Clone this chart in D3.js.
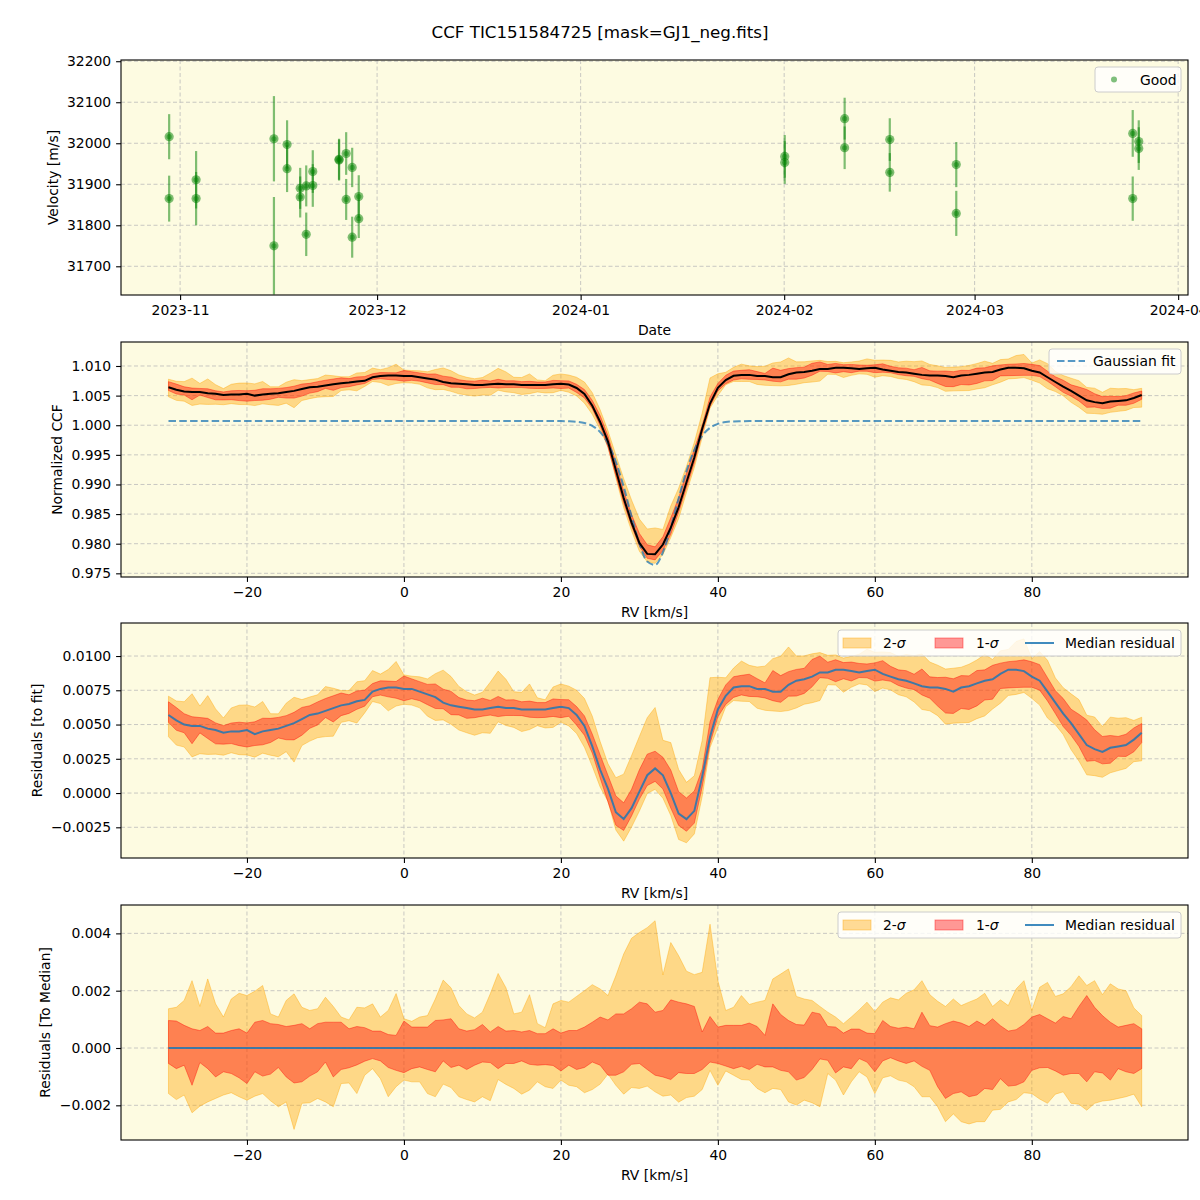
<!DOCTYPE html>
<html><head><meta charset="utf-8">
<script src="https://cdn.jsdelivr.net/npm/d3@7"></script>
<style>
body{margin:0;background:#fff}
text{font-family:"DejaVu Sans",sans-serif;fill:#000}
</style></head><body>
<svg id="chart" width="1200" height="1200" xmlns="http://www.w3.org/2000/svg"></svg>
<script>
// ---------------- DATA ----------------
const titleText = "CCF TIC151584725 [mask=GJ1_neg.fits]";

// Panel 1: radial velocity measurements
const obsDates = ["2023-10-30T08:00","2023-10-30T08:00","2023-11-03T10:30","2023-11-03T10:30",
  "2023-11-15T07:00","2023-11-15T07:00","2023-11-17T07:00","2023-11-17T07:00",
  "2023-11-19T07:00","2023-11-19T07:00","2023-11-20T05:00","2023-11-20T05:00",
  "2023-11-21T05:00","2023-11-21T05:00","2023-11-25T05:00","2023-11-25T05:00",
  "2023-11-26T07:00","2023-11-26T07:00","2023-11-27T05:00","2023-11-27T05:00",
  "2023-11-28T05:00","2023-11-28T05:00","2024-02-01T02:00","2024-02-01T02:00",
  "2024-02-10T05:00","2024-02-10T05:00","2024-02-17T02:00","2024-02-17T02:00",
  "2024-02-27T05:00","2024-02-27T05:00","2024-03-25T02:00","2024-03-25T02:00",
  "2024-03-26T00:00","2024-03-26T00:00"];
const obsRV = [32016,31865,31911,31865,32011,31750,31997,31938,31890,31869,31896,31778,
  31931,31897,31961,31959,31975,31863,31941,31771,31870,31816,31968,31953,
  32060,31989,32009,31929,31948,31829,32024,31865,32004,31987];
const obsErr = [55,56,70,65,104,119,59,57,50,50,50,53,52,52,50,50,52,50,48,50,52,47,
  52,52,51,52,52,47,55,55,57,54,52,52];
const velTicks = [31700,31800,31900,32000,32100,32200];

// RV grid (km/s) for the CCF panels
const rvGrid = d3.range(-30, 95, 1);
// Gaussian fit curve
const gaussFit = [
 1.0007,1.0007,1.0007,1.0007,1.0007,1.0007,1.0007,1.0007,1.0007,1.0007,
 1.0007,1.0007,1.0007,1.0007,1.0007,1.0007,1.0007,1.0007,1.0007,1.0007,
 1.0007,1.0007,1.0007,1.0007,1.0007,1.0007,1.0007,1.0007,1.0007,1.0007,
 1.0007,1.0007,1.0007,1.0007,1.0007,1.0007,1.0007,1.0007,1.0007,1.0007,
 1.0007,1.0007,1.0007,1.0007,1.0007,1.0007,1.0007,1.0007,1.0007,1.0007,
 1.0007,1.00067,1.00059,1.00039,0.99989,0.99885,0.99693,0.99384,0.9896,0.98465,
 0.98003,0.97698,0.97642,0.97856,0.9827,0.98765,0.99227,0.99584,0.99821,0.99956,
 1.00023,1.00053,1.00065,1.00068,1.0007,1.0007,1.0007,1.0007,1.0007,1.0007,
 1.0007,1.0007,1.0007,1.0007,1.0007,1.0007,1.0007,1.0007,1.0007,1.0007,
 1.0007,1.0007,1.0007,1.0007,1.0007,1.0007,1.0007,1.0007,1.0007,1.0007,
 1.0007,1.0007,1.0007,1.0007,1.0007,1.0007,1.0007,1.0007,1.0007,1.0007,
 1.0007,1.0007,1.0007,1.0007,1.0007,1.0007,1.0007,1.0007,1.0007,1.0007,
 1.0007,1.0007,1.0007,1.0007,1.0007];
// Median residual to fit
const medResid = [
 0.0057,0.0053,0.0050,0.0049,0.0049,0.0047,0.0046,0.0044,0.0045,0.0045,
 0.0046,0.0043,0.0045,0.0046,0.0047,0.0049,0.0051,0.0054,0.0057,0.0058,
 0.0060,0.0062,0.0064,0.0065,0.0067,0.0068,0.0074,0.0076,0.0077,0.0077,
 0.0076,0.0076,0.0074,0.0072,0.0070,0.0066,0.0064,0.0063,0.0062,0.0061,
 0.0061,0.0062,0.0063,0.0062,0.0062,0.0061,0.0061,0.0061,0.0061,0.0062,
 0.0063,0.0062,0.0057,0.0049,0.0034,0.0017,0.0003,-0.0014,-0.0019,-0.0011,
 0.0001,0.0013,0.0018,0.0013,0.0000,-0.0015,-0.0019,-0.0013,0.0012,0.0041,
 0.0061,0.0071,0.0077,0.0078,0.0078,0.0076,0.0076,0.0074,0.0074,0.0079,
 0.0082,0.0083,0.0085,0.0088,0.0088,0.0090,0.0090,0.0089,0.0088,0.0089,
 0.0090,0.0087,0.0085,0.0083,0.0082,0.0080,0.0078,0.0077,0.0077,0.0076,
 0.0074,0.0077,0.0078,0.0080,0.0082,0.0083,0.0087,0.0090,0.0090,0.0089,
 0.0085,0.0082,0.0074,0.0066,0.0058,0.0051,0.0043,0.0035,0.0032,0.0030,
 0.0033,0.0034,0.0035,0.0039,0.0044];
// Quantile offsets relative to the median (residuals to median)
const upper2 = [
 0.00137,0.00142,0.00166,0.00235,0.00145,0.00241,0.00154,0.00108,0.00171,0.00191,
 0.00183,0.00198,0.00218,0.00119,0.00108,0.00166,0.00189,0.00142,0.00131,0.00137,
 0.00177,0.00145,0.00108,0.00098,0.00142,0.00140,0.00154,0.00108,0.00131,0.0019,
 0.00102,0.00093,0.00108,0.00113,0.00171,0.00237,0.0021,0.00148,0.00119,0.00105,
 0.00125,0.00189,0.0026,0.0021,0.00119,0.00125,0.00186,0.00085,0.00071,0.00154,
 0.00166,0.0016,0.0018,0.002,0.00221,0.00206,0.00183,0.00252,0.00328,0.00383,
 0.00403,0.0042,0.00444,0.00255,0.00368,0.00322,0.00268,0.00256,0.00264,0.00432,
 0.00235,0.00131,0.00142,0.00183,0.00152,0.0016,0.00166,0.00241,0.00258,0.00276,
 0.0018,0.00171,0.00166,0.00145,0.00125,0.00108,0.00085,0.00108,0.00133,0.0016,
 0.00127,0.0016,0.00175,0.00168,0.00191,0.00203,0.00235,0.00186,0.00163,0.00145,
 0.00171,0.00148,0.0016,0.00171,0.00191,0.00145,0.00168,0.00148,0.00206,0.00235,
 0.00131,0.00212,0.00229,0.0018,0.00189,0.00214,0.00252,0.00218,0.00235,0.00186,
 0.00224,0.00206,0.002,0.0014,0.00113];
const upper1 = [
 0.00096,0.00094,0.00079,0.00067,0.00061,0.00075,0.00052,0.00052,0.00061,0.00067,
 0.00052,0.0009,0.00096,0.00085,0.00082,0.00075,0.00079,0.00085,0.00067,0.00085,
 0.0009,0.0009,0.0009,0.00067,0.00075,0.00071,0.00059,0.00059,0.00047,0.00044,
 0.00094,0.00073,0.00073,0.00073,0.00096,0.00098,0.00102,0.00067,0.00059,0.00064,
 0.00082,0.00056,0.00075,0.00059,0.00061,0.00056,0.00061,0.0005,0.0005,0.00067,
 0.00052,0.00061,0.00061,0.00073,0.0009,0.00108,0.00098,0.00119,0.00119,0.00137,
 0.0016,0.00154,0.00125,0.00131,0.00168,0.0016,0.00154,0.00145,0.00056,0.0011,
 0.00073,0.00079,0.00079,0.00079,0.00087,0.00075,0.00044,0.00154,0.00117,0.00096,
 0.00082,0.0008,0.00125,0.00119,0.00075,0.00073,0.00052,0.00066,0.00066,0.00052,
 0.0005,0.00096,0.00075,0.00069,0.00073,0.00067,0.00125,0.00078,0.00073,0.00085,
 0.00094,0.00087,0.00075,0.00094,0.00079,0.00102,0.00078,0.00059,0.00064,0.00082,
 0.00108,0.00117,0.00102,0.00087,0.0011,0.00102,0.00145,0.00183,0.00142,0.00113,
 0.0009,0.00073,0.00079,0.00085,0.00067];
const lower1 = [
 -0.00054,-0.00072,-0.0006,-0.0013,-0.00051,-0.00072,-0.00101,-0.00083,-0.00089,-0.00104,
 -0.00124,-0.00083,-0.00098,-0.00091,-0.00068,-0.00101,-0.00122,-0.00118,-0.00098,-0.00083,
 -0.00049,-0.00101,-0.00075,-0.00069,-0.00059,-0.00046,-0.00037,-0.00045,-0.00068,-0.00078,
 -0.00086,-0.00072,-0.00066,-0.00075,-0.00083,-0.00045,-0.00068,-0.0006,-0.00075,-0.0006,
 -0.00049,-0.00051,-0.00072,-0.00054,-0.00054,-0.00045,-0.00057,-0.0006,-0.00058,-0.00061,
 -0.0008,-0.0006,-0.00075,-0.00068,-0.00049,-0.0006,-0.00095,-0.00095,-0.00083,-0.00057,
 -0.00054,-0.00075,-0.00095,-0.00101,-0.0011,-0.00086,-0.00089,-0.00089,-0.00075,-0.00049,
 -0.00054,-0.00063,-0.00072,-0.00064,-0.00075,-0.00057,-0.00066,-0.00066,-0.00078,-0.00083,
 -0.00112,-0.00103,-0.00075,-0.00038,-0.00043,-0.00087,-0.00066,-0.00072,-0.00037,-0.00049,
 -0.00083,-0.00045,-0.00034,-0.00045,-0.00054,-0.00045,-0.00064,-0.00078,-0.00135,-0.00176,
 -0.00159,-0.00153,-0.0017,-0.00164,-0.00141,-0.00145,-0.00107,-0.00133,-0.0013,-0.00118,
 -0.00078,-0.00069,-0.00068,-0.0008,-0.00095,-0.00089,-0.00089,-0.00118,-0.00083,-0.00087,
 -0.00112,-0.00072,-0.00083,-0.00089,-0.00072];
const lower2 = [
 -0.00159,-0.0018,-0.00164,-0.00226,-0.00203,-0.00188,-0.00176,-0.00164,-0.00156,-0.0017,
 -0.00182,-0.00168,-0.00159,-0.00184,-0.00205,-0.00188,-0.00284,-0.00193,-0.00191,-0.00176,
 -0.00188,-0.00205,-0.00124,-0.00122,-0.00159,-0.00095,-0.00072,-0.00107,-0.0017,-0.00135,
 -0.00112,-0.00118,-0.00118,-0.00159,-0.0017,-0.00126,-0.00138,-0.0017,-0.0018,-0.00188,
 -0.0017,-0.00184,-0.0011,-0.00127,-0.00141,-0.00161,-0.00147,-0.00118,-0.00135,-0.00141,
 -0.00112,-0.0013,-0.00135,-0.00156,-0.00145,-0.00126,-0.00091,-0.0013,-0.00161,-0.00138,
 -0.00141,-0.00133,-0.00153,-0.00168,-0.00164,-0.00189,-0.00173,-0.00168,-0.00145,-0.00078,
 -0.0013,-0.0008,-0.00095,-0.0011,-0.00112,-0.00141,-0.00156,-0.00141,-0.00145,-0.00188,
 -0.00199,-0.00182,-0.00191,-0.00205,-0.00089,-0.00112,-0.00164,-0.00118,-0.00083,-0.00101,
 -0.00159,-0.00104,-0.00097,-0.00112,-0.00118,-0.00135,-0.0017,-0.0017,-0.00205,-0.00257,
 -0.0023,-0.00257,-0.00265,-0.00257,-0.00257,-0.00217,-0.00214,-0.00188,-0.0018,-0.00156,
 -0.00159,-0.00178,-0.00193,-0.00161,-0.00153,-0.00193,-0.00196,-0.00217,-0.00193,-0.00185,
 -0.00182,-0.00176,-0.0017,-0.00161,-0.00205];

const rvTicks = [-20,0,20,40,60,80];
const ccfTicks = [0.975,0.980,0.985,0.990,0.995,1.000,1.005,1.010];
const residTicks = [-0.0025,0,0.0025,0.005,0.0075,0.01];
const medTicks = [-0.002,0,0.002,0.004];

// ---------------- LAYOUT ----------------
const svg = d3.select('#chart');
const L = 121, R = 1188;
const FS = 13.9;
const BG = '#fdfbe1';
const panels = [
  {top:60, bottom:295},
  {top:342, bottom:577},
  {top:623, bottom:858},
  {top:905, bottom:1140}
];

svg.append('text').attr('x',600).attr('y',38).attr('text-anchor','middle')
  .style('font-size','16.7px').text(titleText);

function frame(i){
  const p = panels[i];
  const g = svg.append('g');
  g.append('rect').attr('x',L).attr('y',p.top).attr('width',R-L).attr('height',p.bottom-p.top).attr('fill',BG);
  svg.append('clipPath').attr('id','clip'+i).append('rect')
    .attr('x',L).attr('y',p.top).attr('width',R-L).attr('height',p.bottom-p.top);
  return g;
}
function grid(g, i, x, y, xt, yt){
  const p = panels[i];
  const gg = g.append('g').attr('stroke','#b8b8b8').attr('stroke-width',1).attr('stroke-dasharray','4,2.5').attr('opacity',0.75);
  xt.forEach(t=>gg.append('line').attr('x1',x(t)).attr('x2',x(t)).attr('y1',p.top).attr('y2',p.bottom));
  yt.forEach(t=>gg.append('line').attr('x1',L).attr('x2',R).attr('y1',y(t)).attr('y2',y(t)));
}
function axes(i, x, y, xt, yt, xfmt, yfmt, xlabel, ylabel, ylabX){
  const p = panels[i];
  const ax = svg.append('g').attr('transform',`translate(0,${p.bottom})`)
    .call(d3.axisBottom(x).tickValues(xt).tickFormat(xfmt).tickSize(4.9).tickPadding(4.9));
  const ay = svg.append('g').attr('transform',`translate(${L},0)`)
    .call(d3.axisLeft(y).tickValues(yt).tickFormat(yfmt).tickSize(4.9).tickPadding(4.9));
  [ax,ay].forEach(a=>{
    a.select('.domain').remove();
    a.selectAll('line').attr('stroke','#000').attr('stroke-width',1.1);
    a.selectAll('text').style('font-size',FS+'px').style('font-family','"DejaVu Sans",sans-serif').attr('fill','#000');
  });
  svg.append('rect').attr('x',L).attr('y',p.top).attr('width',R-L).attr('height',p.bottom-p.top)
    .attr('fill','none').attr('stroke','#000').attr('stroke-width',1.1);
  svg.append('text').attr('x',(L+R)/2).attr('y',p.bottom+40).attr('text-anchor','middle')
    .style('font-size',FS+'px').text(xlabel);
  svg.append('text').attr('transform',`translate(${ylabX},${(p.top+p.bottom)/2}) rotate(-90)`)
    .attr('text-anchor','middle').style('font-size',FS+'px').text(ylabel);
}
function legendBox(x0,y0,w,h){
  svg.append('rect').attr('x',x0).attr('y',y0).attr('width',w).attr('height',h).attr('rx',3)
    .attr('fill','#fff').attr('fill-opacity',0.8).attr('stroke','#cccccc').attr('stroke-width',1);
}

// ---------------- PANEL 1 ----------------
{
  const i=0, p=panels[i];
  const parse = d3.utcParse('%Y-%m-%dT%H:%M');
  const x = d3.scaleUtc().domain([Date.UTC(2023,9,23,0), Date.UTC(2024,3,2,12)]).range([L,R]);
  const y = d3.scaleLinear().domain([31630,32203]).range([p.bottom,p.top]);
  const g = frame(i);
  const xt = d3.utcMonth.range(Date.UTC(2023,10,1), Date.UTC(2024,3,2));
  grid(g,i,x,y,xt,velTicks);
  const d = obsDates.map((s,k)=>({t:parse(s), v:obsRV[k], e:obsErr[k]}));
  const dg = g.append('g').attr('clip-path','url(#clip0)');
  dg.selectAll('line.eb').data(d).join('line').attr('class','eb')
    .attr('x1',q=>x(q.t)).attr('x2',q=>x(q.t)).attr('y1',q=>y(q.v-q.e)).attr('y2',q=>y(q.v+q.e))
    .attr('stroke','#008000').attr('stroke-opacity',0.5).attr('stroke-width',2.2);
  dg.selectAll('circle.m').data(d).join('circle').attr('class','m')
    .attr('cx',q=>x(q.t)).attr('cy',q=>y(q.v)).attr('r',4.6)
    .attr('fill','#008000').attr('fill-opacity',0.5);
  dg.selectAll('circle.c').data(d).join('circle').attr('class','c')
    .attr('cx',q=>x(q.t)).attr('cy',q=>y(q.v)).attr('r',2.6)
    .attr('fill','#008000').attr('fill-opacity',0.45);
  axes(i,x,y,xt,velTicks,d3.utcFormat('%Y-%m'),d3.format('d'),'Date','Velocity [m/s]',58);
  legendBox(1095,67,86,25);
  svg.append('circle').attr('cx',1114).attr('cy',79.5).attr('r',3).attr('fill','#008000').attr('fill-opacity',0.5);
  svg.append('text').attr('x',1140).attr('y',84.5).style('font-size',FS+'px').text('Good');
}

// ---------------- helpers for band panels ----------------
const xRV = d3.scaleLinear().domain([-36.05,99.9]).range([L,R]);
function bandPanel(i, y, base, showFit){
  const g = frame(i);
  grid(g,i,xRV,y,rvTicks,i===1?ccfTicks:(i===2?residTicks:medTicks));
  const dg = g.append('g').attr('clip-path',`url(#clip${i})`);
  const idx = d3.range(rvGrid.length);
  const a2 = d3.area().x(k=>xRV(rvGrid[k])).y0(k=>y(base[k]+lower2[k])).y1(k=>y(base[k]+upper2[k]));
  const a1 = d3.area().x(k=>xRV(rvGrid[k])).y0(k=>y(base[k]+lower1[k])).y1(k=>y(base[k]+upper1[k]));
  dg.append('path').attr('d',a2(idx)).attr('fill','orange').attr('fill-opacity',0.4)
    .attr('stroke','orange').attr('stroke-opacity',0.4).attr('stroke-width',1);
  dg.append('path').attr('d',a1(idx)).attr('fill','red').attr('fill-opacity',0.4)
    .attr('stroke','red').attr('stroke-opacity',0.4).attr('stroke-width',1);
  const ln = d3.line().x(k=>xRV(rvGrid[k])).y(k=>y(base[k]));
  if(showFit){
    dg.append('path').attr('d',d3.line().x(k=>xRV(rvGrid[k])).y(k=>y(gaussFit[k])).curve(d3.curveMonotoneX)(idx))
      .attr('fill','none').attr('stroke','#1f77b4').attr('stroke-opacity',0.75).attr('stroke-width',2)
      .attr('stroke-dasharray','7.5,3.3');
    dg.append('path').attr('d',ln(idx)).attr('fill','none').attr('stroke','#000').attr('stroke-width',2);
  } else {
    dg.append('path').attr('d',ln(idx)).attr('fill','none').attr('stroke','#1f77b4').attr('stroke-opacity',0.85).attr('stroke-width',2);
  }
}
function sigmaLegend(y0){
  legendBox(838,y0,343,26);
  svg.append('rect').attr('x',843).attr('y',y0+8).attr('width',28).attr('height',10)
    .attr('fill','orange').attr('fill-opacity',0.4).attr('stroke','orange').attr('stroke-opacity',0.4);
  const t1 = svg.append('text').attr('x',883).attr('y',y0+18).style('font-size',FS+'px');
  t1.append('tspan').text('2-'); t1.append('tspan').style('font-style','italic').text('σ');
  svg.append('rect').attr('x',935).attr('y',y0+8).attr('width',28).attr('height',10)
    .attr('fill','red').attr('fill-opacity',0.4).attr('stroke','red').attr('stroke-opacity',0.4);
  const t2 = svg.append('text').attr('x',976).attr('y',y0+18).style('font-size',FS+'px');
  t2.append('tspan').text('1-'); t2.append('tspan').style('font-style','italic').text('σ');
  svg.append('line').attr('x1',1025).attr('x2',1054).attr('y1',y0+13).attr('y2',y0+13)
    .attr('stroke','#1f77b4').attr('stroke-opacity',0.85).attr('stroke-width',2);
  svg.append('text').attr('x',1065).attr('y',y0+18).style('font-size',FS+'px').text('Median residual');
}

// ---------------- PANEL 2 ----------------
{
  const i=1, p=panels[i];
  const y = d3.scaleLinear().domain([0.97438,1.01405]).range([p.bottom,p.top]);
  const ccfMedian = rvGrid.map((r,k)=>gaussFit[k]+medResid[k]);
  bandPanel(i,y,ccfMedian,true);
  axes(i,xRV,y,rvTicks,ccfTicks,d3.format('d'),d3.format('.3f'),'RV [km/s]','Normalized CCF',62);
  legendBox(1049,349,132,25);
  svg.append('line').attr('x1',1057).attr('x2',1085).attr('y1',361).attr('y2',361)
    .attr('stroke','#1f77b4').attr('stroke-opacity',0.75).attr('stroke-width',2).attr('stroke-dasharray','7.5,3.3');
  svg.append('text').attr('x',1093).attr('y',366).style('font-size',FS+'px').text('Gaussian fit');
}

// ---------------- PANEL 3 ----------------
{
  const i=2, p=panels[i];
  const y = d3.scaleLinear().domain([-0.00474,0.01241]).range([p.bottom,p.top]);
  bandPanel(i,y,medResid,false);
  axes(i,xRV,y,rvTicks,residTicks,d3.format('d'),d3.format('.4f'),'RV [km/s]','Residuals [to fit]',42);
  sigmaLegend(630);
}

// ---------------- PANEL 4 ----------------
{
  const i=3, p=panels[i];
  const y = d3.scaleLinear().domain([-0.00321,0.00499]).range([p.bottom,p.top]);
  const zeros = rvGrid.map(()=>0);
  bandPanel(i,y,zeros,false);
  axes(i,xRV,y,rvTicks,medTicks,d3.format('d'),d3.format('.3f'),'RV [km/s]','Residuals [To Median]',50);
  sigmaLegend(912);
}
</script>
</body></html>
